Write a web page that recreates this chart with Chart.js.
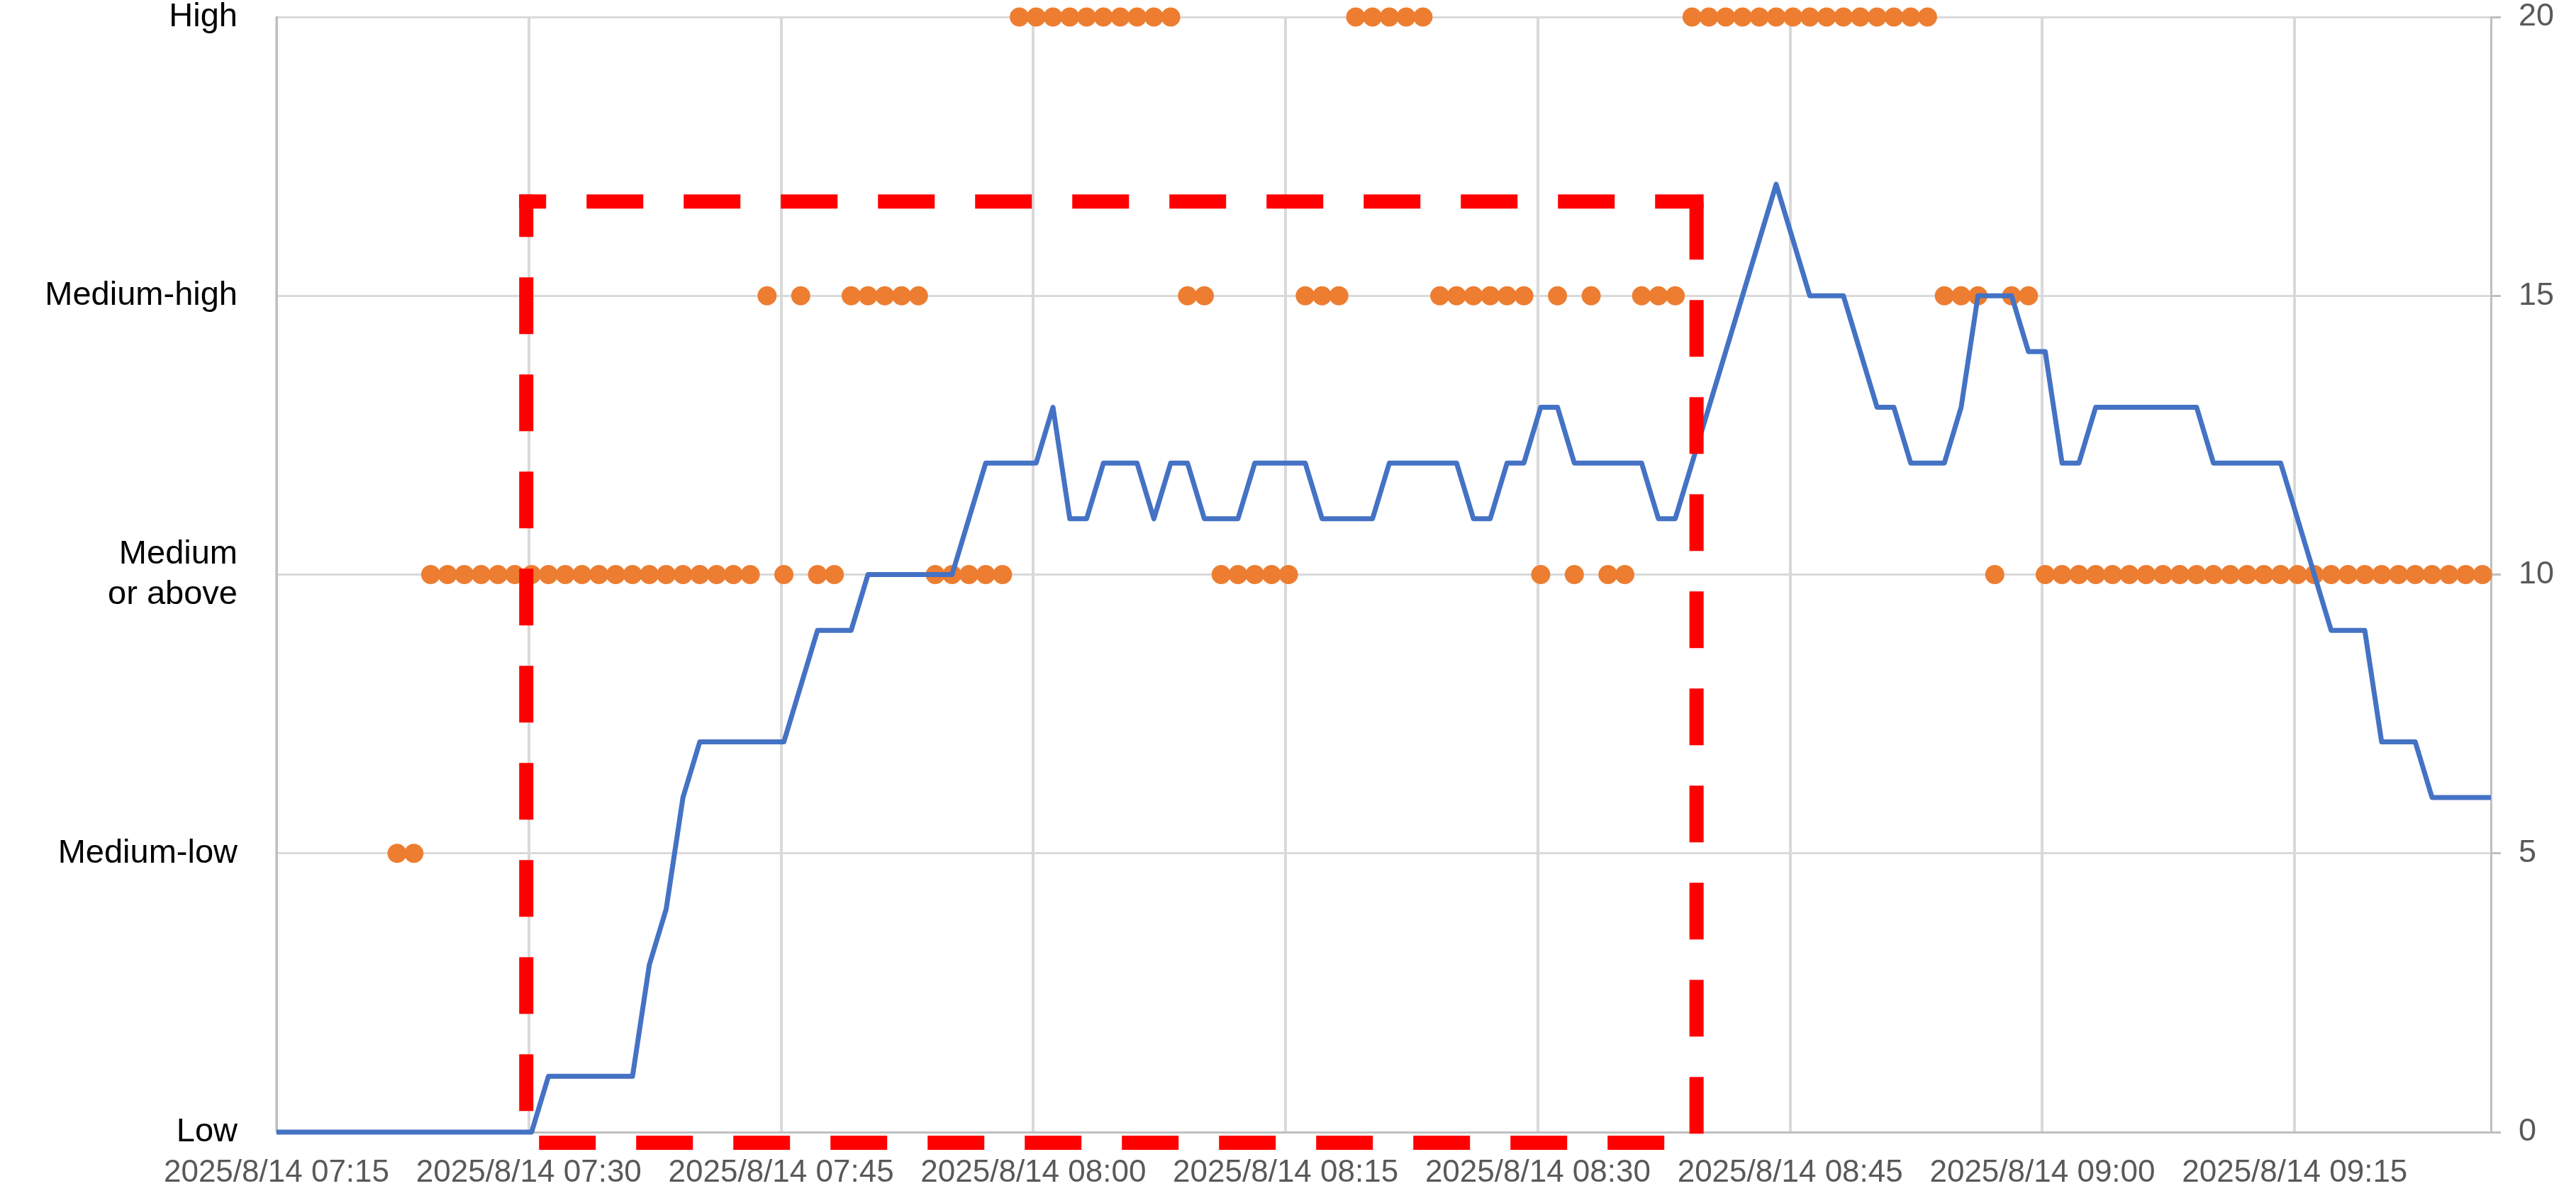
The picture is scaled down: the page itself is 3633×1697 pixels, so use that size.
<!DOCTYPE html>
<html>
<head>
<meta charset="utf-8">
<script src="https://cdn.jsdelivr.net/npm/chart.js@4.4.1/dist/chart.umd.min.js"></script>
<style>
    html, body { margin: 0; padding: 0; background: #ffffff; }
    #wrap { width: 3633px; height: 1697px; }
</style>
</head>
<body>
<div id="wrap"><canvas id="levelChart" width="3633" height="1697"></canvas></div>
<script>
// Sample times (one per minute, each taken ~10 s past the minute)
const sampleSecond = 10;
const times = [
    '07:14','07:15','07:16','07:17','07:18','07:19','07:20','07:21','07:22','07:23',
    '07:24','07:25','07:26','07:27','07:28','07:29','07:30','07:31','07:32','07:33',
    '07:34','07:35','07:36','07:37','07:38','07:39','07:40','07:41','07:42','07:43',
    '07:44','07:45','07:46','07:47','07:48','07:49','07:50','07:51','07:52','07:53',
    '07:54','07:55','07:56','07:57','07:58','07:59','08:00','08:01','08:02','08:03',
    '08:04','08:05','08:06','08:07','08:08','08:09','08:10','08:11','08:12','08:13',
    '08:14','08:15','08:16','08:17','08:18','08:19','08:20','08:21','08:22','08:23',
    '08:24','08:25','08:26','08:27','08:28','08:29','08:30','08:31','08:32','08:33',
    '08:34','08:35','08:36','08:37','08:38','08:39','08:40','08:41','08:42','08:43',
    '08:44','08:45','08:46','08:47','08:48','08:49','08:50','08:51','08:52','08:53',
    '08:54','08:55','08:56','08:57','08:58','08:59','09:00','09:01','09:02','09:03',
    '09:04','09:05','09:06','09:07','09:08','09:09','09:10','09:11','09:12','09:13',
    '09:14','09:15','09:16','09:17','09:18','09:19','09:20','09:21','09:22','09:23',
    '09:24','09:25','09:26','09:27'
];

// Blue line (right axis, 0-20)
const lineValues = [
    0, 0, 0, 0, 0, 0, 0, 0, 0, 0,
    0, 0, 0, 0, 0, 0, 0, 1, 1, 1,
    1, 1, 1, 3, 4, 6, 7, 7, 7, 7,
    7, 7, 8, 9, 9, 9, 10, 10, 10, 10,
    10, 10, 11, 12, 12, 12, 12, 13, 11, 11,
    12, 12, 12, 11, 12, 12, 11, 11, 11, 12,
    12, 12, 12, 11, 11, 11, 11, 12, 12, 12,
    12, 12, 11, 11, 12, 12, 13, 13, 12, 12,
    12, 12, 12, 11, 11, 12, 13, 14, 15, 16,
    17, 16, 15, 15, 15, 14, 13, 13, 12, 12,
    12, 13, 15, 15, 15, 14, 14, 12, 12, 13,
    13, 13, 13, 13, 13, 13, 12, 12, 12, 12,
    12, 11, 10, 9, 9, 9, 7, 7, 7, 6,
    6, 6, 6, 6
];

// Orange dots: rated level per minute (left axis categories)
const levelValues = [
    null, null, null, null, null, null, null, null, 5, 5,
    10, 10, 10, 10, 10, 10, 10, 10, 10, 10,
    10, 10, 10, 10, 10, 10, 10, 10, 10, 10,
    15, 10, 15, 10, 10, 15, 15, 15, 15, 15,
    10, 10, 10, 10, 10, 20, 20, 20, 20, 20,
    20, 20, 20, 20, 20, 15, 15, 10, 10, 10,
    10, 10, 15, 15, 15, 20, 20, 20, 20, 20,
    15, 15, 15, 15, 15, 15, 10, 15, 10, 15,
    10, 10, 15, 15, 15, 20, 20, 20, 20, 20,
    20, 20, 20, 20, 20, 20, 20, 20, 20, 20,
    15, 15, 15, 10, 15, 15, 10, 10, 10, 10,
    10, 10, 10, 10, 10, 10, 10, 10, 10, 10,
    10, 10, 10, 10, 10, 10, 10, 10, 10, 10,
    10, 10, 10, null
];

// Axis labels
const levelTicks = [0, 5, 10, 15, 20];
const levelLabels = ['Low', 'Medium-low', 'Medium\nor above', 'Medium-high', 'High'];
const rightTicks = [0, 5, 10, 15, 20];
const xTickTimes = ['07:15', '07:30', '07:45', '08:00', '08:15', '08:30', '08:45', '09:00', '09:15'];
const xTickLabels = [
    '2025/8/14 07:15', '2025/8/14 07:30', '2025/8/14 07:45',
    '2025/8/14 08:00', '2025/8/14 08:15', '2025/8/14 08:30',
    '2025/8/14 08:45', '2025/8/14 09:00', '2025/8/14 09:15'
];
const axisStart = '07:15';
const axisEnd = '09:26:40';

// Highlight box (red dashed)
const boxFrom = '07:29:51';
const boxTo = '08:39:26';
const boxLow = -0.19;
const boxHigh = 16.69;

// minutes since axisStart
function toMinutes(t) {
    const p = t.split(':').map(Number);
    const s = axisStart.split(':').map(Number);
    return (p[0] * 60 + p[1] + (p[2] || 0) / 60) - (s[0] * 60 + s[1]);
}

const linePoints = times.map((t, i) => ({ x: toMinutes(t) + sampleSecond / 60, y: lineValues[i] }));
const dotPoints = [];
times.forEach((t, i) => {
    if (levelValues[i] !== null) dotPoints.push({ x: toMinutes(t) + sampleSecond / 60, y: levelValues[i] });
});

const FONT = '"Liberation Sans", Arial, sans-serif';

const boxPlugin = {
    id: 'highlightBox',
    afterDraw(chart) {
        const ctx = chart.ctx;
        const x = chart.scales.x;
        const y = chart.scales.y;
        const left = x.getPixelForValue(toMinutes(boxFrom));
        const right = x.getPixelForValue(toMinutes(boxTo));
        const top = y.getPixelForValue(boxHigh);
        const bottom = y.getPixelForValue(boxLow);

        ctx.save();
        ctx.strokeStyle = '#FF0000';
        ctx.lineWidth = 20;
        ctx.lineCap = 'square';
        ctx.setLineDash([60, 77]);
        const side = (x1, y1, x2, y2, offset) => {
            ctx.lineDashOffset = offset;
            ctx.beginPath();
            ctx.moveTo(x1, y1);
            ctx.lineTo(x2, y2);
            ctx.stroke();
        };
        side(left, top, right, top, 42);
        side(right, top, right, bottom, 125);
        side(left, bottom, right, bottom, 109);
        side(left, top, left, bottom, 20);
        ctx.restore();
    }
};

function noPad(scale) {
    scale.paddingTop = 0;
    scale.paddingBottom = 0;
    scale.paddingLeft = 0;
    scale.paddingRight = 0;
}

new Chart(document.getElementById('levelChart'), {
    type: 'scatter',
    data: {
        datasets: [
            {
                label: 'Line',
                data: linePoints,
                yAxisID: 'y1',
                showLine: true,
                borderColor: '#4472C4',
                borderWidth: 7,
                borderJoinStyle: 'round',
                pointRadius: 0,
                clip: { left: 0, right: 0, top: 10, bottom: 10 }
            },
            {
                label: 'Level',
                data: dotPoints,
                yAxisID: 'y',
                showLine: false,
                backgroundColor: '#ED7D31',
                borderWidth: 0,
                pointRadius: 13.5,
                clip: false
            }
        ]
    },
    options: {
        responsive: false,
        animation: false,
        devicePixelRatio: 1,
        layout: { padding: { top: 24, left: 0, right: 0, bottom: 0 } },
        plugins: {
            legend: { display: false },
            tooltip: { enabled: false }
        },
        scales: {
            x: {
                type: 'linear',
                position: 'bottom',
                min: toMinutes(axisStart),
                max: toMinutes(axisEnd),
                afterBuildTicks: (scale) => {
                    scale.ticks = xTickTimes.map(t => ({ value: toMinutes(t) }));
                },
                afterFit: (scale) => { scale.height = 100; noPad(scale); },
                ticks: {
                    autoSkip: false,
                    maxRotation: 0,
                    padding: 31,
                    color: '#595959',
                    font: { family: FONT, size: 44 },
                    callback: (v) => {
                        const idx = xTickTimes.findIndex(t => Math.abs(toMinutes(t) - v) < 0.01);
                        return idx >= 0 ? xTickLabels[idx] : '';
                    }
                },
                grid: { color: '#D9D9D9', lineWidth: 4, drawTicks: false },
                border: { color: '#BFBFBF', width: 3 }
            },
            y: {
                position: 'left',
                min: 0,
                max: 20,
                afterBuildTicks: (scale) => {
                    scale.ticks = levelTicks.map(v => ({ value: v }));
                },
                afterFit: (scale) => { scale.width = 390; noPad(scale); },
                ticks: {
                    padding: 55,
                    color: '#000000',
                    font: { family: FONT, size: 47 },
                    callback: (v) => {
                        const idx = levelTicks.indexOf(v);
                        return idx >= 0 ? levelLabels[idx].split('\n') : '';
                    }
                },
                grid: { color: '#D9D9D9', lineWidth: 3, drawTicks: false },
                border: { color: '#BFBFBF', width: 3 }
            },
            y1: {
                position: 'right',
                min: 0,
                max: 20,
                afterBuildTicks: (scale) => {
                    scale.ticks = rightTicks.map(v => ({ value: v }));
                },
                afterFit: (scale) => { scale.width = 120; noPad(scale); },
                ticks: {
                    padding: 25,
                    color: '#595959',
                    font: { family: FONT, size: 45 }
                },
                grid: {
                    drawOnChartArea: false,
                    drawTicks: true,
                    tickLength: 14,
                    tickColor: '#BFBFBF',
                    tickWidth: 3
                },
                border: { color: '#BFBFBF', width: 3 }
            }
        }
    },
    plugins: [boxPlugin]
});
</script>
</body>
</html>
